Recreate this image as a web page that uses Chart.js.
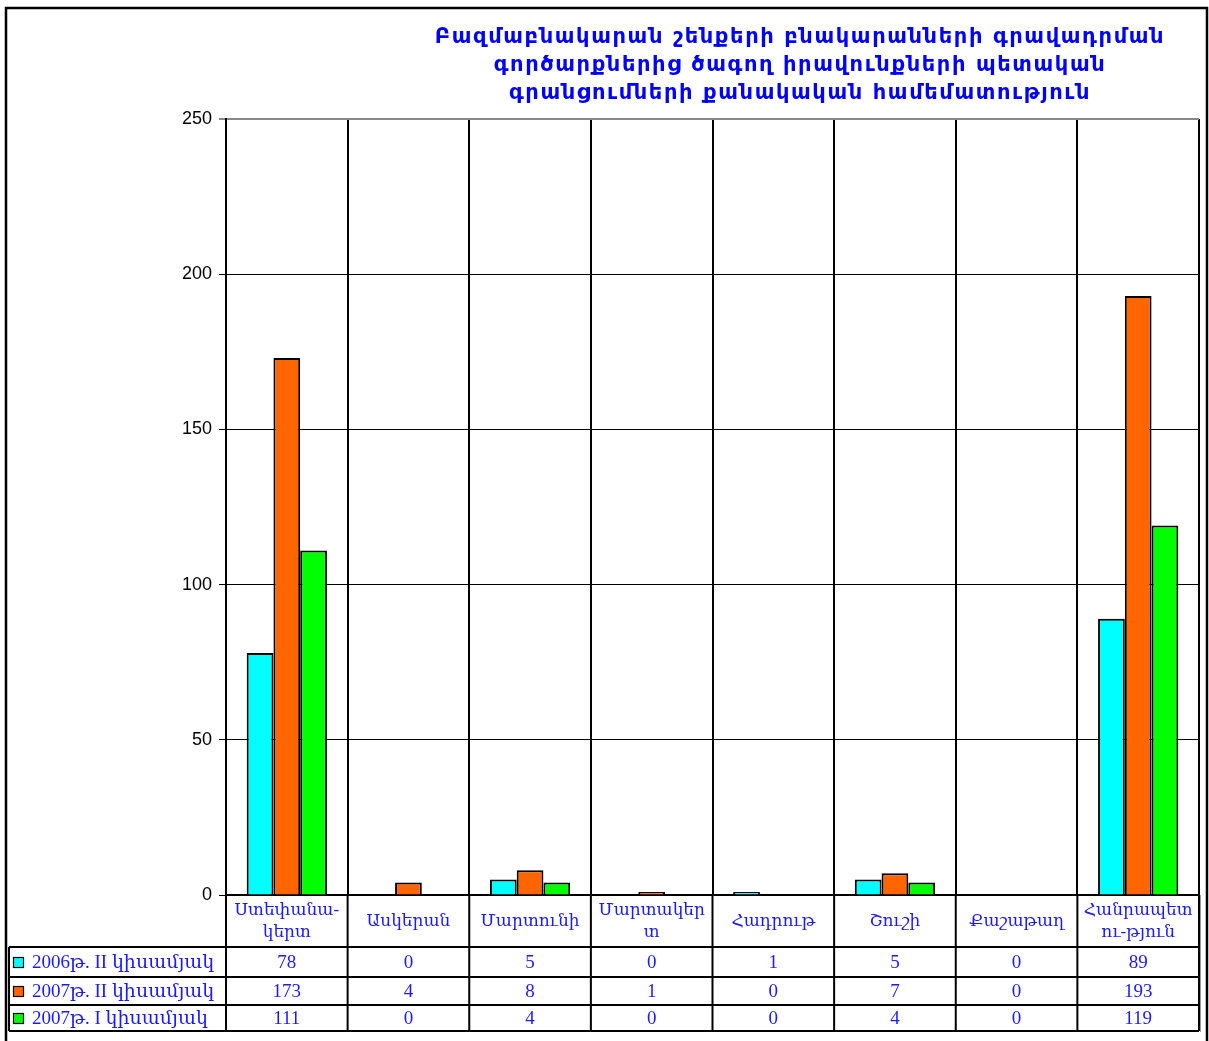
<!DOCTYPE html>
<html>
<head>
<meta charset="utf-8">
<script src="https://cdn.jsdelivr.net/npm/chart.js@4"></script>
<style>
  html, body { margin: 0; padding: 0; background: #fff; }
  canvas { display: block; }
</style>
</head>
<body>
<canvas id="chart" width="1209" height="1041"></canvas>
<script>
const titleLines = [
    "Բազմաբնակարան շենքերի բնակարանների գրավադրման",
    "գործարքներից ծագող իրավունքների պետական",
    "գրանցումների քանակական համեմատություն"
];
const categories = [
    ["Ստեփանա-", "կերտ"],
    ["Ասկերան"],
    ["Մարտունի"],
    ["Մարտակեր", "տ"],
    ["Հադրութ"],
    ["Շուշի"],
    ["Քաշաթաղ"],
    ["Հանրապետ", "ու-թյուն"]
];
const seriesNames = ["2006թ. II կիսամյակ", "2007թ. II կիսամյակ", "2007թ. I կիսամյակ"];
const seriesColors = ["#00ffff", "#ff6600", "#00ff00"];
const values2006II = [78, 0, 5, 0, 1, 5, 0, 89];
const values2007II = [173, 4, 8, 1, 0, 7, 0, 193];
const values2007I = [111, 0, 4, 0, 0, 4, 0, 119];
const yTicks = [0, 50, 100, 150, 200, 250];

const seriesValues = [values2006II, values2007II, values2007I];
const blue = "#1a1aff";
const serif = "'Liberation Serif', 'DejaVu Serif', serif";

const PLOT_LEFT = 226, PLOT_TOP = 119, PLOT_RIGHT = 1199, PLOT_BOTTOM = 895;
const W = 1209, H = 1041;
const tableRows = [947, 977, 1005, 1031];

const frame = {
    id: "frame",
    beforeDraw(chart) {
        const ctx = chart.ctx;
        ctx.save();
        ctx.fillStyle = "#fff";
        ctx.fillRect(0, 0, W, H);
        ctx.restore();
    },
    afterDraw(chart) {
        const ctx = chart.ctx;
        const x = chart.scales.x;
        const step = (x.right - x.left) / categories.length;
        ctx.save();

        // outer frame
        ctx.strokeStyle = "#000";
        ctx.lineWidth = 2.5;
        ctx.beginPath();
        ctx.moveTo(6, H + 5);
        ctx.lineTo(6, 8);
        ctx.lineTo(1207, 8);
        ctx.lineTo(1207, H + 5);
        ctx.stroke();

        // title
        ctx.fillStyle = "#0000ff";
        ctx.font = "bold 21px 'DejaVu Sans', sans-serif";
        ctx.letterSpacing = "1.6px";
        ctx.textAlign = "center";
        ctx.textBaseline = "middle";
        titleLines.forEach((t, i) => ctx.fillText(t, 800, 38 + i * 28));
        ctx.letterSpacing = "0px";

        // data table grid
        ctx.strokeStyle = "#000";
        ctx.lineWidth = 2;
        ctx.beginPath();
        for (let i = 0; i <= categories.length; i++) {
            const lx = x.left + step * i;
            ctx.moveTo(lx, PLOT_BOTTOM);
            ctx.lineTo(lx, tableRows[3]);
        }
        ctx.moveTo(9, tableRows[0]);
        ctx.lineTo(9, tableRows[3]);
        tableRows.forEach(ry => {
            ctx.moveTo(9, ry);
            ctx.lineTo(x.right, ry);
        });
        ctx.stroke();
        ctx.strokeStyle = "#999";
        ctx.lineWidth = 1;
        ctx.beginPath();
        ctx.moveTo(x.right + 1.5, PLOT_BOTTOM);
        ctx.lineTo(x.right + 1.5, tableRows[3] + 1);
        ctx.stroke();

        // category headers
        ctx.fillStyle = blue;
        ctx.font = "17px " + serif;
        categories.forEach((lines, i) => {
            const cx = x.getPixelForValue(i);
            const mid = (PLOT_BOTTOM + tableRows[0]) / 2 + 1;
            lines.forEach((ln, j) => {
                const ly = mid + (j - (lines.length - 1) / 2) * 22;
                ctx.fillText(ln, cx, ly);
            });
        });

        // rows
        ctx.font = "19px " + serif;
        seriesValues.forEach((vals, r) => {
            const cy = (tableRows[r] + tableRows[r + 1]) / 2 + 1;
            vals.forEach((v, i) => {
                ctx.fillStyle = blue;
                ctx.textAlign = "center";
                ctx.fillText(String(v), x.getPixelForValue(i), cy);
            });
            ctx.fillStyle = seriesColors[r];
            ctx.fillRect(13, cy - 6, 11, 11);
            ctx.strokeStyle = "#000";
            ctx.lineWidth = 1.2;
            ctx.strokeRect(13.5, cy - 5.5, 10, 10);
            ctx.fillStyle = blue;
            ctx.textAlign = "left";
            ctx.fillText(seriesNames[r], 32, cy);
        });
        ctx.restore();
    }
};

new Chart(document.getElementById("chart"), {
    type: "bar",
    data: {
        labels: categories,
        datasets: seriesNames.map((name, i) => ({
            label: name,
            data: seriesValues[i],
            backgroundColor: seriesColors[i],
            borderColor: "#000",
            borderWidth: ctx => (ctx.raw === 0 ? 0 : 2),
            borderSkipped: "start",
            barPercentage: 1,
            categoryPercentage: 0.66
        }))
    },
    options: {
        responsive: false,
        animation: false,
        layout: { padding: { left: 0, top: PLOT_TOP, right: W - PLOT_RIGHT, bottom: 0 } },
        plugins: {
            legend: { display: false },
            tooltip: { enabled: false },
            title: { display: false }
        },
        scales: {
            x: {
                afterFit: s => { s.height = H - PLOT_BOTTOM; },
                ticks: { display: false },
                grid: {
                    offset: true,
                    drawTicks: false,
                    color: c => (c.index === categories.length ? "#888" : "#000"),
                    lineWidth: 2
                },
                border: { color: "#000", width: 2 }
            },
            y: {
                min: 0,
                max: 250,
                afterFit: s => { s.width = PLOT_LEFT; },
                afterBuildTicks: s => { s.ticks = yTicks.map(v => ({ value: v })); },
                ticks: {
                    color: "#000",
                    font: { family: "'Liberation Sans', Arial, sans-serif", size: 18 },
                    padding: 7
                },
                grid: {
                    color: c => (c.tick && c.tick.value === 250 ? "#888" : "#000"),
                    lineWidth: c => (c.tick && c.tick.value === 250 ? 2 : 1),
                    tickLength: 7
                },
                border: { color: "#000", width: 2 }
            }
        }
    },
    plugins: [frame]
});
</script>
</body>
</html>
